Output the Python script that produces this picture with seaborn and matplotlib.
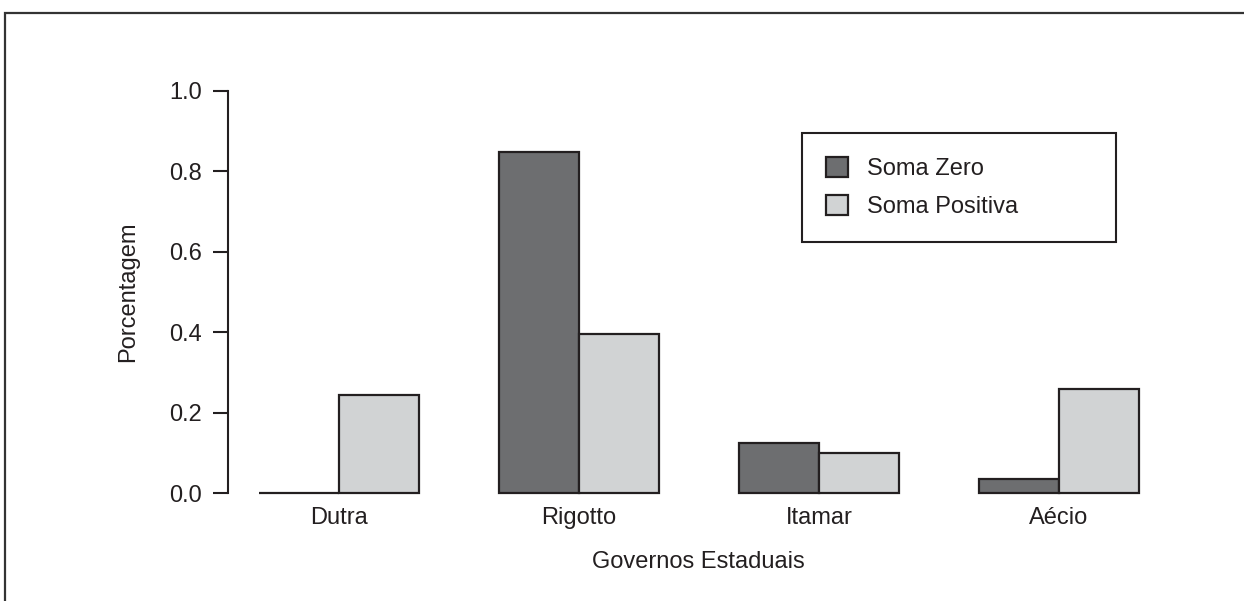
import pandas as pd
import matplotlib.pyplot as plt
import matplotlib.patches as mpatches
import seaborn as sns

# Data
governos = ["Dutra", "Rigotto", "Itamar", "Aécio"]
soma_zero = [0.0, 0.848, 0.124, 0.035]
soma_positiva = [0.244, 0.396, 0.100, 0.259]
series_labels = ["Soma Zero", "Soma Positiva"]

df = pd.DataFrame({
    "governo": governos * 2,
    "valor": soma_zero + soma_positiva,
    "tipo": [series_labels[0]] * 4 + [series_labels[1]] * 4,
})

sns.set_style("white")
plt.rcParams['font.family'] = ['Liberation Sans', 'DejaVu Sans']
ink = "#231f20"
plt.rcParams['text.color'] = ink
plt.rcParams['axes.labelcolor'] = ink
plt.rcParams['xtick.color'] = ink
plt.rcParams['ytick.color'] = ink
fs = 17

fig = plt.figure(figsize=(12.44, 6.01), dpi=100)
ax = fig.add_axes([0.1833, 0.1797, 0.7567, 0.6689])

sns.barplot(data=df, x="governo", y="valor", hue="tipo",
            palette=["#6d6e70", "#d1d3d4"], saturation=1,
            edgecolor=ink, linewidth=1.6, width=0.667, ax=ax)
for p in ax.patches:
    p.set_clip_on(False)

ax.set_xlim(-0.4625, 3.46)
ax.set_ylim(0, 1.0)
ax.set_yticks([0.0, 0.2, 0.4, 0.6, 0.8, 1.0])
ax.set_yticklabels(["0.0", "0.2", "0.4", "0.6", "0.8", "1.0"])

for s in ["top", "right", "bottom"]:
    ax.spines[s].set_visible(False)
ax.spines["left"].set_color(ink)
ax.spines["left"].set_linewidth(1.5)

ax.tick_params(axis="y", left=True, length=11, width=1.5, pad=8,
               labelsize=fs, direction="out")
ax.tick_params(axis="x", bottom=False, length=0, pad=10, labelsize=fs)
ax.set_xlabel("Governos Estaduais", fontsize=fs, labelpad=16)
ax.set_ylabel("Porcentagem", fontsize=fs, labelpad=21)

handles, labels = ax.get_legend_handles_labels()
leg = ax.legend(handles, labels, loc="upper left",
                bbox_to_anchor=(0.61, 0.63, 0.333, 0.2655), mode="expand",
                fontsize=fs, frameon=True, fancybox=False, borderpad=1.0,
                labelspacing=0.63, handlelength=0.95, handleheight=0.95,
                handletextpad=0.8, borderaxespad=0)
leg.get_frame().set_edgecolor(ink)
leg.get_frame().set_linewidth(1.5)
leg.get_frame().set_alpha(1)

# outer frame of the scanned figure (right and bottom edges run off the image)
fig.patches.append(mpatches.Rectangle((5 / 1244, -0.1), 1.2, 1 - 13 / 601 + 0.1,
                                      transform=fig.transFigure, fill=False,
                                      edgecolor="#333333", linewidth=1.6))

fig.savefig("out.png", dpi=100)
